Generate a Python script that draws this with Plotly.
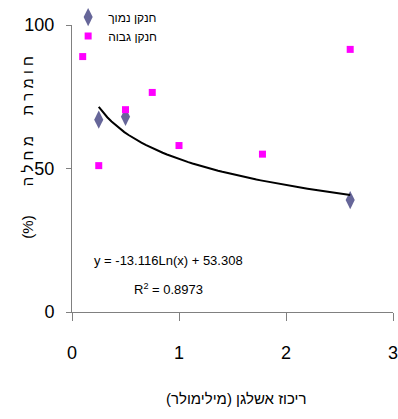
import numpy as np
import plotly.graph_objects as go

# Disease severity (%) vs potassium concentration (mM)
low_n_x = [0.25, 0.5, 2.6]
low_n_y = [67, 68, 39]

high_n_x = [0.1, 0.25, 0.5, 0.75, 1.0, 1.78, 2.6]
high_n_y = [89, 51, 70.5, 76.5, 58, 55, 91.5]

# Logarithmic trend fitted to the low-nitrogen series
trend_a = -13.116
trend_b = 53.308
trend_r2 = 0.8973

x_ticks = [0, 1, 2, 3]
y_ticks = [0, 50, 100]

FONT = "Liberation Sans, Arial, sans-serif"
RLM = "\u200f"
NB = "\u00a0"

x_title = "ריכוז אשלגן (מילימולר)" + RLM
y_title = (NB.join("חומרת") + NB * 5 + NB.join("מחלה") + NB * 7 + "(%)") + RLM

trend_x = np.linspace(min(low_n_x), max(low_n_x), 60)
trend_y = trend_a * np.log(trend_x) + trend_b

fig = go.Figure()
fig.add_trace(go.Scatter(
    x=low_n_x, y=low_n_y, mode="markers", name="חנקן נמוך",
    marker=dict(symbol="diamond-tall", size=13, color="#666699"),
))
fig.add_trace(go.Scatter(
    x=high_n_x, y=high_n_y, mode="markers", name="חנקן גבוה",
    marker=dict(symbol="square", size=7, color="#FF00FF"),
))
fig.add_trace(go.Scatter(
    x=trend_x, y=trend_y, mode="lines", showlegend=False,
    line=dict(color="black", width=2),
))

# Trend equation and goodness of fit
fig.add_annotation(
    x=0.30, y=0.181, xref="paper", yref="paper", showarrow=False,
    xanchor="center", yanchor="middle",
    text=f"y = {trend_a}Ln(x) + {trend_b}",
    font=dict(family=FONT, size=13, color="black"),
)
fig.add_annotation(
    x=0.30, y=0.08, xref="paper", yref="paper", showarrow=False,
    xanchor="center", yanchor="middle",
    text=f"R<sup>2</sup> = {trend_r2}",
    font=dict(family=FONT, size=13, color="black"),
)

# Axis titles
fig.add_annotation(
    x=0.512, y=-0.303, xref="paper", yref="paper", showarrow=False,
    xanchor="center", yanchor="middle", text=x_title,
    font=dict(family=FONT, size=15, color="black"),
)
fig.add_annotation(
    x=-0.138, y=0.575, xref="paper", yref="paper", showarrow=False,
    xanchor="center", yanchor="middle", textangle=-90, text=y_title,
    font=dict(family=FONT, size=15, color="black"),
)

fig.update_layout(
    width=398, height=419,
    margin=dict(l=72, r=0, t=25, b=107),
    paper_bgcolor="white", plot_bgcolor="white",
    font=dict(family=FONT, color="black"),
    showlegend=True,
    legend=dict(
        x=-0.012, y=1.078, xanchor="left", yanchor="top",
        bgcolor="rgba(0,0,0,0)", font=dict(family=FONT, size=12),
        tracegroupgap=0, itemsizing="trace",
    ),
    xaxis=dict(
        range=[0, 3], tickvals=x_ticks, showgrid=False, zeroline=False,
        showline=True, linecolor="#808080", linewidth=1,
        ticks="outside", ticklen=8, tickcolor="#808080",
        tickfont=dict(family=FONT, size=18), ticklabelstandoff=16,
        ticklabeloverflow="allow",
    ),
    yaxis=dict(
        range=[0, 100], tickvals=y_ticks, showgrid=False, zeroline=False,
        showline=True, linecolor="#808080", linewidth=1,
        ticks="outside", ticklen=5, tickcolor="#808080",
        tickfont=dict(family=FONT, size=18), ticklabelstandoff=8,
    ),
)

fig.write_html("out.html")
